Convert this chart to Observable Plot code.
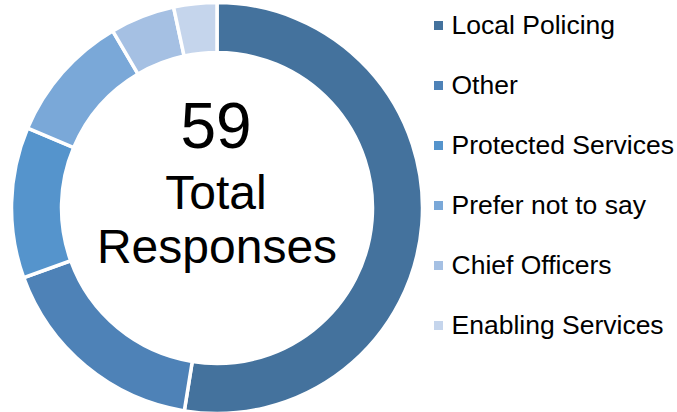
<!DOCTYPE html>
<html><head><meta charset="utf-8">
<script src="https://cdn.jsdelivr.net/npm/d3@7"></script>
<script src="https://cdn.jsdelivr.net/npm/@observablehq/plot@0.6"></script>
<style>body{margin:0;background:#fff}</style>
</head><body><div id="chart"></div>
<script>
const categories = ["Local Policing", "Other", "Protected Services", "Prefer not to say", "Chief Officers", "Enabling Services"];
const counts = [31, 10, 7, 6, 3, 2];
const colors = ["#44729d", "#4e82b7", "#5594cc", "#7aa8d8", "#a5c0e3", "#c5d5ec"];
const totalLabel = "59";
const centerWords = ["Total", "Responses"];

const data = categories.map((c, i) => ({category: c, count: counts[i]}));
const font = "'Liberation Sans', Arial, sans-serif";

function donut(index, scales) {
  const cx = 217, cy = 208;
  const slices = d3.pie().sort(null).value(d => d.count).startAngle(0).endAngle(2 * Math.PI)(data);
  const arc = d3.arc().innerRadius(155.5).outerRadius(205.5);
  const g = d3.create("svg:g").attr("transform", `translate(${cx},${cy})`);
  g.selectAll("path").data(slices).join("path")
    .attr("d", arc)
    .attr("fill", d => scales.color(d.data.category))
    .attr("stroke", "#fff")
    .attr("stroke-width", 3.5)
    .attr("stroke-linejoin", "miter");
  return g.node();
}

const chart = Plot.plot({
  width: 677,
  height: 412,
  margin: 0,
  style: {fontFamily: font, background: "#fff", color: "#000"},
  x: {type: "identity", axis: null},
  y: {type: "point", domain: categories, range: [24.5, 324.5], padding: 0, axis: null},
  color: {type: "ordinal", domain: categories, range: colors},
  marks: [
    donut,
    Plot.text([totalLabel], {text: d => d, frameAnchor: "top-left", dx: 215.5, dy: 147.5, textAnchor: "middle", lineAnchor: "bottom", fontSize: 64, fill: "#000"}),
    Plot.text([centerWords[0]], {text: d => d, frameAnchor: "top-left", dx: 215.5, dy: 208, textAnchor: "middle", lineAnchor: "bottom", fontSize: 48, fill: "#000"}),
    Plot.text([centerWords[1]], {text: d => d, frameAnchor: "top-left", dx: 216.5, dy: 262, textAnchor: "middle", lineAnchor: "bottom", fontSize: 48, fill: "#000"}),
    Plot.dot(categories, {x: 438, y: d => d, fill: d => d, symbol: "square", r: 5.1, stroke: "none"}),
    Plot.text(categories, {x: 451, y: d => d, text: d => d, textAnchor: "start", fontSize: 26.5, fill: "#000"})
  ]
});
document.getElementById("chart").appendChild(chart);
</script>
</body></html>
